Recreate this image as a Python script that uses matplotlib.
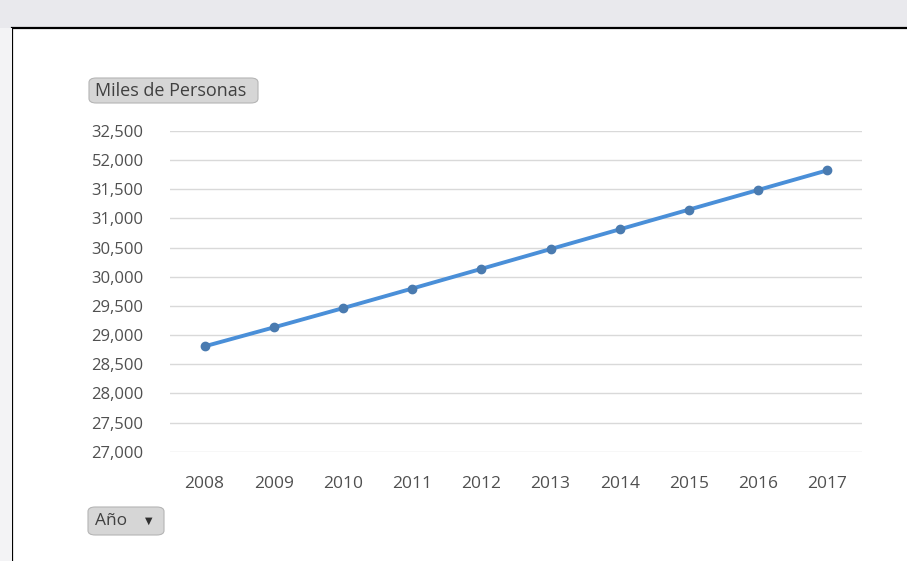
import matplotlib
matplotlib.use("Agg")
import matplotlib.pyplot as plt
from matplotlib.patches import Rectangle, FancyBboxPatch

years = ["2008", "2009", "2010", "2011", "2012", "2013", "2014", "2015", "2016", "2017"]
population = [28807, 29132, 29462, 29798, 30136, 30475, 30814, 31152, 31489, 31826]
y_ticks = [27000, 27500, 28000, 28500, 29000, 29500, 30000, 30500, 31000, 31500, 32000, 32500]
y_tick_labels = ["27,000", "27,500", "28,000", "28,500", "29,000", "29,500", "30,000",
                 "30,500", "31,000", "31,500", "52,000", "32,500"]
y_title = "Miles de Personas"
x_button = "Año"

W, H = 907, 561
plt.rcParams['font.family'] = ['Open Sans', 'DejaVu Sans']
fig = plt.figure(figsize=(W / 100, H / 100), dpi=100)
fig.patch.set_facecolor("#e9e9ed")

# white chart frame with black border
fig.patches.append(Rectangle((12 / W, -0.05), 1.0, 1 - 28 / H + 0.05, transform=fig.transFigure,
                             facecolor="white", edgecolor="black", linewidth=1.6, zorder=-10))
fig.patches.append(Rectangle((0, 0), 12 / W, 1 - 28 / H, transform=fig.transFigure,
                             facecolor="#f3f3f5", edgecolor="none", zorder=-10))

ax = fig.add_axes([170 / W, 1 - 452 / H, (862 - 170) / W, (452 - 131) / H])
ax.set_facecolor("none")
x = list(range(len(years)))
ax.plot(x, population, color="#4a8fd8", linewidth=2.8, marker="o", markersize=6,
        markerfacecolor="#4a7bb0", markeredgecolor="#4a7bb0", zorder=3)
ax.set_xlim(-0.5, len(years) - 0.5)
ax.set_ylim(y_ticks[0] - 5, y_ticks[-1])
ax.set_yticks(y_ticks)
ax.set_yticklabels(y_tick_labels)
ax.set_xticks(x)
ax.set_xticklabels(years)
for s in ax.spines.values():
    s.set_visible(False)
ax.grid(axis="y", color="#d9d9d9", linewidth=1.0)
ax.set_axisbelow(True)
ax.tick_params(axis="both", length=0, colors="#505050")
ax.tick_params(axis="y", pad=19, labelsize=12)
ax.tick_params(axis="x", pad=17, labelsize=12.5)

def button(x0, y0, x1, y1):
    b = FancyBboxPatch((x0 / W, 1 - y1 / H), (x1 - x0) / W, (y1 - y0) / H,
                       boxstyle="round,pad=0,rounding_size=0.008", transform=fig.transFigure,
                       facecolor="#d6d6d6", edgecolor="#b5b5b5", linewidth=0.8, zorder=2)
    fig.patches.append(b)

button(89, 78, 258, 103)
fig.text(95 / W, 1 - 90.5 / H, y_title, ha="left", va="center",
         fontsize=13, color="#404040", zorder=3)
button(88, 507, 164, 535)
fig.text(95 / W, 1 - 521 / H, x_button, ha="left", va="center",
         fontsize=12.5, color="#404040", zorder=3)
fig.text(149 / W, 1 - 521 / H, "\u25BC", ha="center", va="center",
         fontsize=7, color="#303030", family="DejaVu Sans", zorder=3)

fig.savefig("out.png", dpi=100)
